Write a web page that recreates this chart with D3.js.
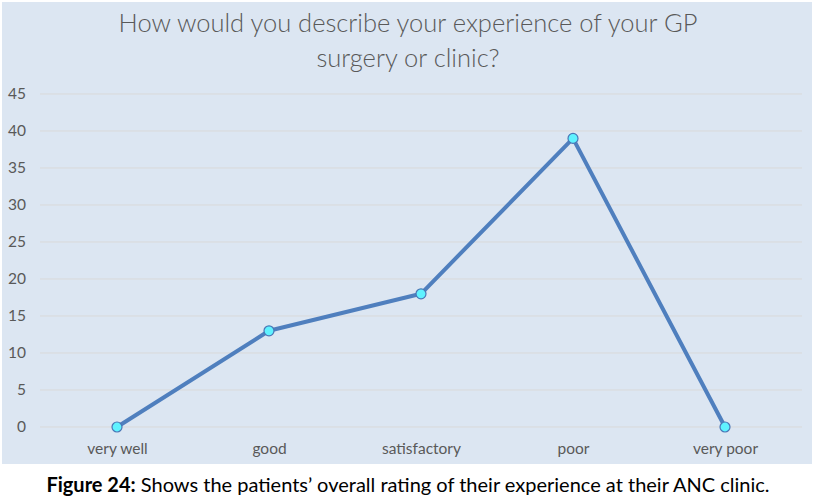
<!DOCTYPE html>
<html><head><meta charset="utf-8">
<script src="https://cdn.jsdelivr.net/npm/d3@7"></script>
<style>body{margin:0;background:#fff;}svg{display:block;}</style>
</head><body>
<svg id="c" width="816" height="498"></svg>
<script>
const categories = ["very well", "good", "satisfactory", "poor", "very poor"];
const values = [0, 13, 18, 39, 0];
const yTicks = [0, 5, 10, 15, 20, 25, 30, 35, 40, 45];
const titleLines = ["How would you describe your experience of your GP", "surgery or clinic?"];
const captionBold = "Figure 24:";
const captionText = " Shows the patients’ overall rating of their experience at their ANC clinic.";

const svg = d3.select("#c");
const font = "Lato, 'Open Sans', sans-serif";
svg.append("rect").attr("x", 2).attr("y", 2).attr("width", 810).attr("height", 462).attr("fill", "#dce6f2");

const x = d3.scalePoint().domain(categories).range([117, 725]);
const y = d3.scaleLinear().domain([0, 45]).range([427, 94]);

// gridlines
svg.append("g").selectAll("line").data(yTicks).join("line")
  .attr("x1", 40).attr("x2", 802)
  .attr("y1", d => y(d)).attr("y2", d => y(d))
  .attr("stroke", "#d9d9d9").attr("stroke-width", 1);

// y axis labels
const yAxis = d3.axisLeft(y).tickValues(yTicks).tickSize(0).tickPadding(0);
const gy = svg.append("g").attr("transform", "translate(26,0)").call(yAxis);
gy.select(".domain").remove();
gy.selectAll("text").attr("fill", "#595959").attr("font-size", 15.5).attr("font-family", font).attr("text-anchor", "end");

// x axis labels
const xAxis = d3.axisBottom(x).tickSize(0).tickPadding(0);
const gx = svg.append("g").attr("transform", "translate(0,443)").call(xAxis);
gx.select(".domain").remove();
gx.selectAll("text").attr("fill", "#595959").attr("font-size", 15.5).attr("font-family", font);

// line
const line = d3.line().x((d, i) => x(categories[i])).y(d => y(d));
svg.append("path").datum(values).attr("d", line).attr("fill", "none")
  .attr("stroke", "#4f7fbe").attr("stroke-width", 4).attr("stroke-linejoin", "round").attr("stroke-linecap", "round");

svg.append("g").selectAll("circle").data(values).join("circle")
  .attr("cx", (d, i) => x(categories[i])).attr("cy", d => y(d)).attr("r", 5)
  .attr("fill", "#5ff2ff").attr("stroke", "#4a76b6").attr("stroke-width", 1.2);

// title
svg.append("text").attr("x", 408).attr("text-anchor", "middle")
  .attr("font-family", font).attr("font-weight", 300).attr("font-size", 25.5).attr("fill", "#595959")
  .selectAll("tspan").data(titleLines).join("tspan")
  .attr("x", 408).attr("y", (d, i) => 32 + i * 35).text(d => d);

// caption
const cap = svg.append("text").attr("x", 408).attr("y", 492).attr("text-anchor", "middle")
  .attr("font-family", font).attr("font-size", 20).attr("fill", "#000");
cap.append("tspan").attr("font-weight", "bold").text(captionBold);
cap.append("tspan").text(captionText);
</script>
</body></html>
